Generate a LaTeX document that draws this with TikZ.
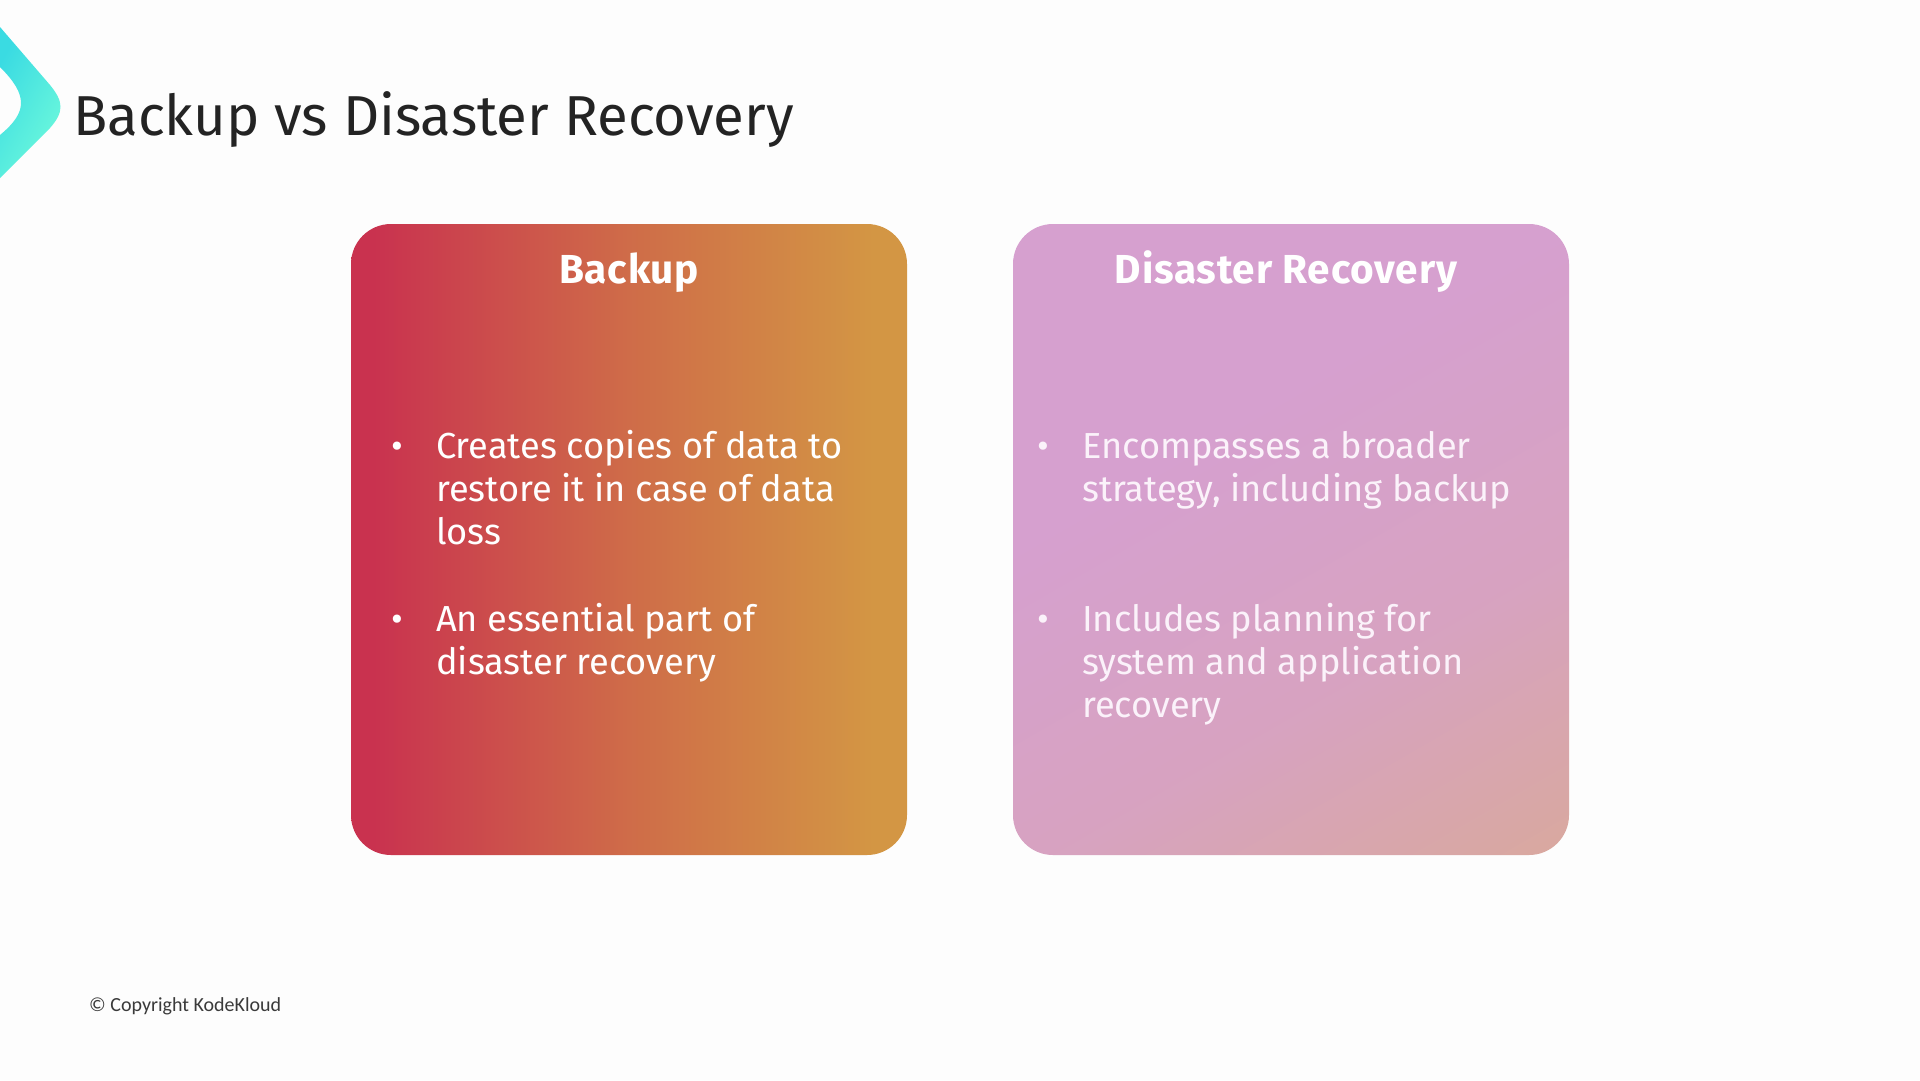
\documentclass[tikz,border=0pt]{standalone}
\usepackage{fontspec}
\setmainfont{Fira Sans}
\newfontfamily\footfont{Carlito}
\usetikzlibrary{calc}

\definecolor{pagewhite}{HTML}{FDFDFD}
\definecolor{titleink}{HTML}{232323}
\definecolor{footink}{HTML}{3A3A3A}
\definecolor{backupred}{HTML}{C9324F}
\definecolor{backupgold}{HTML}{D39644}
\definecolor{drlilac}{HTML}{D6A0CF}
\definecolor{drsalmon}{HTML}{D9A99A}
\definecolor{drtext}{HTML}{FBF2FA}
\definecolor{arrowcyan}{HTML}{3ADBE2}
\definecolor{arrowmint}{HTML}{6FFADB}

\pgfdeclarehorizontalshading{drshade}{100bp}{color(0bp)=(drlilac); color(26bp)=(drlilac); color(50bp)=(drlilac!72!drsalmon); color(74bp)=(drsalmon)}
\pgfdeclarehorizontalshading{backupshade}{100bp}{color(0bp)=(backupred); color(27bp)=(backupred); color(50bp)=(backupred!42!backupgold); color(72bp)=(backupgold); color(100bp)=(backupgold)}

\tikzset{
  card/.style={rounded corners=40pt},
  cardhead/.style={anchor=base,text=white,font=\fontsize{40.5}{43}\selectfont\bfseries\addfontfeature{LetterSpace=2}},
  cardbody/.style={anchor=base west,align=left,inner sep=0pt,font=\fontsize{36.2}{43}\selectfont},
}

\begin{document}
\begin{tikzpicture}[x=1pt,y=-1pt]
\useasboundingbox (0,0) rectangle (1920,1080);
\fill[pagewhite] (0,0) rectangle (1920,1080);
% corner arrow
\shade[left color=arrowcyan,right color=arrowmint,shading angle=60]
  (0,27) -- (50,85) .. controls (64,102) and (64,112) .. (50,128) -- (0,178) -- (0,135)
  .. controls (28,112) and (28,95) .. (0,67) -- cycle;
\node[anchor=base west,inner sep=0pt,text=titleink,font=\fontsize{56.3}{60}\selectfont] (title) at (73,135) {Backup vs Disaster Recovery};
% cards
\shade[card,shading=backupshade] (351,224) rectangle (907,855);
\shade[card,shading=drshade,shading angle=-60] (1013,224) rectangle (1569,855);
\node[cardhead] (backuphead) at (629,283) {Backup};
\node[cardhead] (drhead) at (1286,283) {Disaster Recovery};
\node[cardbody,text=white] (dotone) at (391,458) {•};
\node[cardbody,text=white] (backupone) at (436,544) {Creates copies of data to\\restore it in case of data\\loss};
\node[cardbody,text=white] (dottwo) at (391,631) {•};
\node[cardbody,text=white] (backuptwo) at (436,674) {An essential part of\\disaster recovery};
\node[cardbody,text=drtext] (dotthree) at (1037,458) {•};
\node[cardbody,text=drtext] (drone) at (1082,501) {Encompasses a broader\\strategy, including backup};
\node[cardbody,text=drtext] (dotfour) at (1037,631) {•};
\node[cardbody,text=drtext] (drtwo) at (1082,717) {Includes planning for\\system and application\\recovery};
\node[anchor=base west,inner sep=0pt,text=footink,font=\footfont\fontsize{20}{24}\selectfont] (copyright) at (89,1011) {© Copyright KodeKloud};
\end{tikzpicture}
\end{document}
